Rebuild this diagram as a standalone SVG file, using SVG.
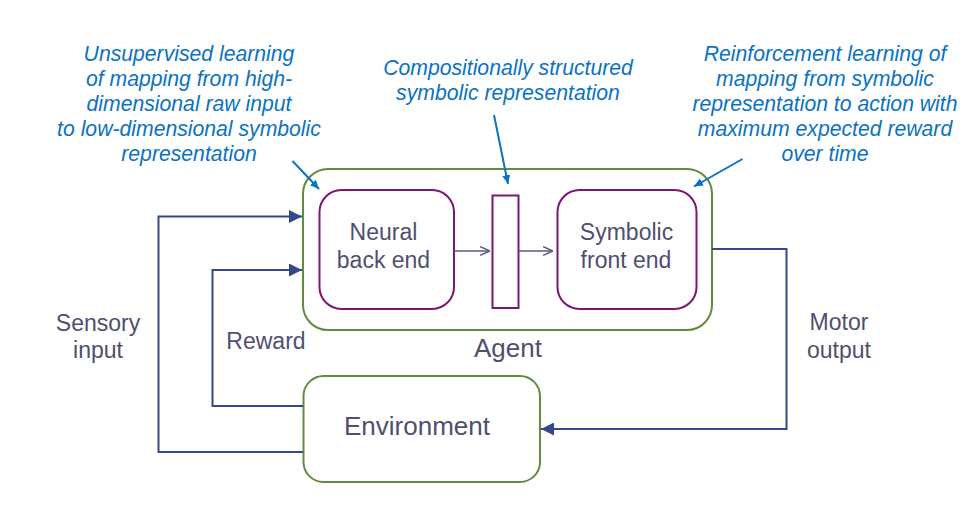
<svg xmlns="http://www.w3.org/2000/svg" width="972" height="507" viewBox="0 0 972 507">
<style>
.lbl{font-family:"Liberation Sans",Arial,sans-serif;fill:#4f4f70;text-anchor:middle}
.ann{font-family:"Liberation Sans",Arial,sans-serif;font-style:italic;fill:#0a72c4;font-size:21.2px;text-anchor:middle}
.green{fill:#fff;stroke:#5f8c3f;stroke-width:2}
.purple{fill:#fff;stroke:#7b1678;stroke-width:2}
.conn{fill:none;stroke:#34488a;stroke-width:2}
.inner{fill:none;stroke:#5a5a7c;stroke-width:1.6}
.annline{fill:none;stroke:#0a72c4;stroke-width:2}
</style>
<defs>
<marker id="tri" viewBox="0 0 10 10" refX="10" refY="5" markerWidth="13" markerHeight="13" markerUnits="userSpaceOnUse" orient="auto">
<path d="M0,0 L10,5 L0,10 z" fill="#34488a"/>
</marker>
<marker id="open" viewBox="0 0 10 10" refX="10" refY="5" markerWidth="11" markerHeight="11" markerUnits="userSpaceOnUse" orient="auto">
<path d="M1,1 L10,5 L1,9" fill="none" stroke="#5a5a7c" stroke-width="1.4"/>
</marker>
<marker id="blue" viewBox="0 0 10 10" refX="10" refY="5" markerWidth="9" markerHeight="9" markerUnits="userSpaceOnUse" orient="auto">
<path d="M0,0.5 L10,5 L0,9.5 z" fill="#0a72c4"/>
</marker>
</defs>

<g id="agent">
<rect class="green" x="303" y="169" width="409" height="161" rx="25"/>
<text class="lbl" x="508" y="357" font-size="26">Agent</text>
</g>
<g id="neural">
<rect class="purple" x="319.5" y="190" width="134.5" height="119" rx="22"/>
<text class="lbl" x="383.5" y="240" font-size="23">Neural</text>
<text class="lbl" x="383.5" y="268" font-size="23">back end</text>
</g>
<g id="symbolic-rep">
<rect class="purple" x="492.5" y="195.5" width="26" height="112.5"/>
</g>
<g id="symbolic">
<rect class="purple" x="557.5" y="190" width="139" height="119" rx="22"/>
<text class="lbl" x="626.5" y="240" font-size="23">Symbolic</text>
<text class="lbl" x="626" y="268" font-size="23">front end</text>
</g>
<g id="environment">
<rect class="green" x="303.5" y="376" width="236.5" height="106" rx="20"/>
<text class="lbl" x="417" y="435" font-size="26">Environment</text>
</g>

<g id="connectors">
<path class="conn" d="M303,452 H158.5 V216.5 H302" marker-end="url(#tri)"/>
<path class="conn" d="M303,406 H212.5 V270 H302" marker-end="url(#tri)"/>
<path class="conn" d="M712,249 H786.5 V429 H541" marker-end="url(#tri)"/>
<path class="inner" d="M454,251 H490" marker-end="url(#open)"/>
<path class="inner" d="M518.5,251 H553" marker-end="url(#open)"/>
<path class="annline" d="M292.5,161 L319,189" marker-end="url(#blue)"/>
<path class="annline" d="M494,115 L508,184" marker-end="url(#blue)"/>
<path class="annline" d="M742.5,159 L694,186.5" marker-end="url(#blue)"/>
</g>

<g id="labels">
<text class="lbl" x="98" y="331" font-size="23">Sensory</text>
<text class="lbl" x="98" y="358" font-size="23">input</text>
<text class="lbl" x="266" y="349" font-size="23">Reward</text>
<text class="lbl" x="839" y="330" font-size="23">Motor</text>
<text class="lbl" x="839" y="358" font-size="23">output</text>
</g>

<g id="annotations">
<text class="ann" x="189" y="61">Unsupervised learning</text>
<text class="ann" x="189" y="86">of mapping from high-</text>
<text class="ann" x="189" y="111">dimensional raw input</text>
<text class="ann" x="189" y="136">to low-dimensional symbolic</text>
<text class="ann" x="189" y="161">representation</text>
<text class="ann" x="508" y="75">Compositionally structured</text>
<text class="ann" x="508" y="100">symbolic representation</text>
<text class="ann" x="825" y="61">Reinforcement learning of</text>
<text class="ann" x="825" y="86">mapping from symbolic</text>
<text class="ann" x="825" y="111">representation to action with</text>
<text class="ann" x="825" y="136">maximum expected reward</text>
<text class="ann" x="825" y="161">over time</text>
</g>
</svg>
